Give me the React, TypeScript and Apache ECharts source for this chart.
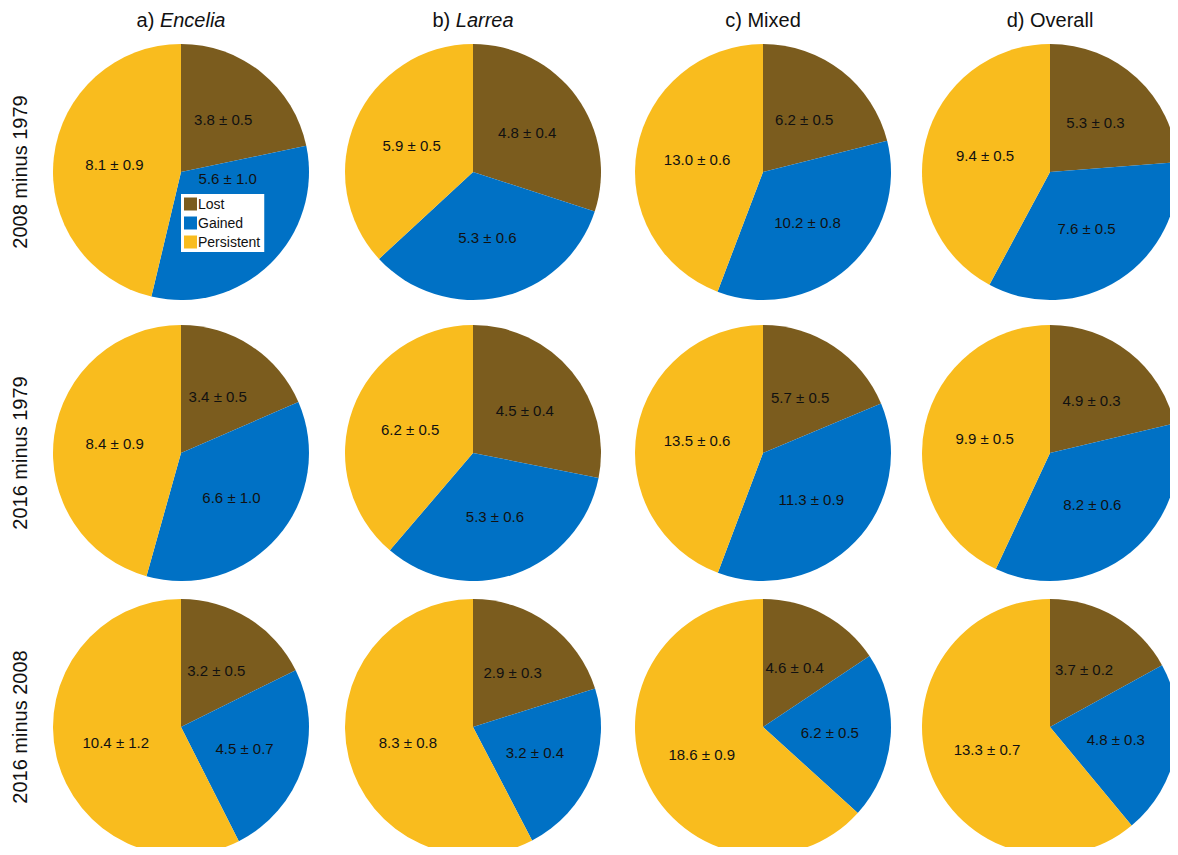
import * as echarts from 'echarts';
import { useEffect, useRef } from 'react';

const categories = ['Lost', 'Gained', 'Persistent'];
const colTitles = [
  ['a) ', 'Encelia', true],
  ['b) ', 'Larrea', true],
  ['c) Mixed', '', false],
  ['d) Overall', '', false],
] as const;
const rowTitles = ['2008 minus 1979', '2016 minus 1979', '2016 minus 2008'];

// [row][col] -> [lost, gained, persistent] means and errors
const means = [
  [[3.8, 5.6, 8.1], [4.8, 5.3, 5.9], [6.2, 10.2, 13.0], [5.3, 7.6, 9.4]],
  [[3.4, 6.6, 8.4], [4.5, 5.3, 6.2], [5.7, 11.3, 13.5], [4.9, 8.2, 9.9]],
  [[3.2, 4.5, 10.4], [2.9, 3.2, 8.3], [4.6, 6.2, 18.6], [3.7, 4.8, 13.3]],
];
const errors = [
  [[0.5, 1.0, 0.9], [0.4, 0.6, 0.5], [0.5, 0.8, 0.6], [0.3, 0.5, 0.5]],
  [[0.5, 1.0, 0.9], [0.4, 0.6, 0.5], [0.5, 0.9, 0.6], [0.3, 0.6, 0.5]],
  [[0.5, 0.7, 1.2], [0.3, 0.4, 0.8], [0.4, 0.5, 0.9], [0.2, 0.3, 0.7]],
];

const colors = ['#7b5c1e', '#0071c5', '#f9bc1e'];
const colX = [181, 473, 763, 1050];
const rowY = [172, 453, 727];
const radius = 128;
const font = 'Liberation Sans, Arial, sans-serif';

export default function App() {
  const elRef = useRef<HTMLDivElement | null>(null);

  useEffect(() => {
    if (!elRef.current) return;
    const chart = echarts.init(elRef.current, undefined, { renderer: 'svg' });

    const series: any[] = [];
    means.forEach((row, r) =>
      row.forEach((vals, c) => {
        series.push({
          type: 'pie',
          center: [colX[c], rowY[r]],
          radius: [0, radius],
          startAngle: 90,
          clockwise: true,
          silent: true,
          z: 1,
          label: {
            show: true,
            position: 'inside',
            color: '#111',
            fontSize: 15,
            fontFamily: font,
            formatter: (p: any) => `${p.value.toFixed(1)} ± ${errors[r][c][p.dataIndex].toFixed(1)}`,
          },
          labelLine: { show: false },
          labelLayout: { hideOverlap: false },
          itemStyle: { borderWidth: 0 },
          data: vals.map((v, i) => ({
            name: categories[i],
            value: v,
            itemStyle: { color: colors[i] },
            // first pie: move the Gained label above the legend
            ...(r === 0 && c === 0 && i === 1 ? { label: { offset: [0, -42] } } : {}),
          })),
        });
      })
    );

    const graphics: any[] = [];
    colTitles.forEach((t, c) => {
      graphics.push({
        type: 'text',
        x: colX[c],
        y: 20,
        style: {
          text: t[2] ? `${t[0]}{i|${t[1]}}` : t[0],
          rich: { i: { fontStyle: 'italic', fontSize: 20, fontFamily: font, fill: '#111' } },
          fontSize: 20,
          fontFamily: font,
          fill: '#111',
          align: 'center',
          verticalAlign: 'middle',
        },
      });
    });
    rowTitles.forEach((t, r) => {
      graphics.push({
        type: 'text',
        x: 20,
        y: rowY[r],
        rotation: Math.PI / 2,
        style: { text: t, fontSize: 20, fontFamily: font, fill: '#111', align: 'center', verticalAlign: 'middle' },
      });
    });

    chart.setOption({
      animation: false,
      legend: {
        data: categories,
        orient: 'vertical',
        left: 181,
        top: 194,
        itemWidth: 13,
        itemHeight: 13,
        itemGap: 5,
        padding: [3, 4, 3, 3],
        backgroundColor: '#fff',
        selectedMode: false,
        icon: 'rect',
        textStyle: { fontSize: 14, fontFamily: font, color: '#111', padding: [0, 0, 0, -4] },
      },
      graphic: graphics,
      series,
    });

    return () => chart.dispose();
  }, []);

  return <div ref={elRef} style={{ width: 1178, height: 855, margin: -8 }} />;
}
